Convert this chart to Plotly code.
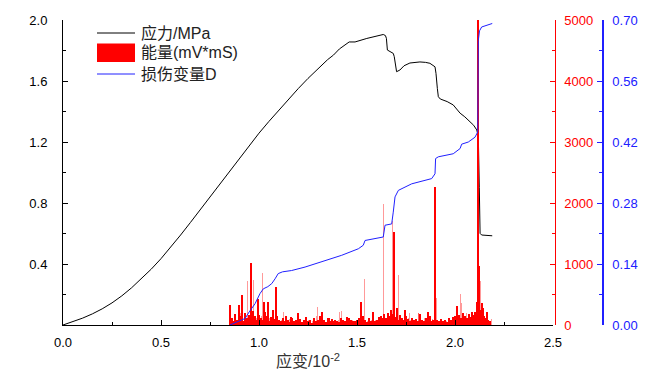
import plotly.graph_objects as go

# ---------------- data ----------------
strain = [0, 0.05, 0.10, 0.15, 0.20, 0.25, 0.30, 0.35, 0.40, 0.45, 0.50, 0.55, 0.60, 0.65, 0.70,
          0.75, 0.80, 0.85, 0.90, 0.95, 1.00, 1.05, 1.10, 1.15, 1.20, 1.25, 1.30, 1.35, 1.38, 1.41,
          1.46, 1.49, 1.55, 1.60, 1.634, 1.645, 1.650, 1.655, 1.668, 1.685, 1.690, 1.695, 1.702,
          1.719, 1.74, 1.77, 1.80, 1.821, 1.85, 1.872, 1.898, 1.903, 1.91, 1.915, 1.925, 1.94,
          1.96, 1.991, 2.01, 2.026, 2.05, 2.077, 2.095, 2.111, 2.119, 2.124, 2.128, 2.136, 2.190]
stress = [0, 0.021, 0.045, 0.073, 0.106, 0.145, 0.191, 0.244, 0.302, 0.366, 0.435, 0.51, 0.59,
          0.672, 0.756, 0.842, 0.928, 1.014, 1.098, 1.18, 1.258, 1.334, 1.408, 1.48, 1.55, 1.617,
          1.68, 1.74, 1.77, 1.81, 1.856, 1.856, 1.879, 1.895, 1.905, 1.898, 1.88, 1.803,
          1.792, 1.781, 1.76, 1.70, 1.661, 1.672, 1.70, 1.718, 1.725, 1.725, 1.722, 1.716,
          1.693, 1.65, 1.55, 1.497, 1.482, 1.475, 1.465, 1.443, 1.413, 1.389, 1.365, 1.334,
          1.31, 1.279, 1.235, 0.90, 0.601, 0.590, 0.585]

damage_strain = [0.852, 0.88, 0.90, 0.929, 0.95, 0.98, 1.005, 1.022, 1.045, 1.065, 1.082, 1.098, 1.12,
                 1.166, 1.235, 1.337, 1.422, 1.507, 1.532, 1.541, 1.634, 1.643, 1.677, 1.685, 1.694,
                 1.711, 1.779, 1.881, 1.898, 1.901, 1.915, 1.991, 2.026, 2.034, 2.068, 2.102, 2.116,
                 2.119, 2.125, 2.136, 2.179, 2.19]
damage = [0, 0.005, 0.008, 0.015, 0.03, 0.049, 0.072, 0.083, 0.088, 0.095, 0.106, 0.118, 0.122,
          0.125, 0.133, 0.148, 0.160, 0.175, 0.183, 0.194, 0.202, 0.229, 0.232, 0.259, 0.294,
          0.309, 0.324, 0.336, 0.347, 0.382, 0.386, 0.393, 0.405, 0.415, 0.420, 0.431, 0.443,
          0.653, 0.675, 0.684, 0.690, 0.692]

# energy bars (solid red)
energy_x = [0.86, 0.87, 0.88, 0.89, 0.90, 0.91, 0.92, 0.93, 0.94, 0.95, 0.96, 0.97, 0.98, 0.99,
            1.00, 1.01, 1.02, 1.03, 1.04, 1.05, 1.06, 1.07, 1.08, 1.09,
            1.10, 1.11, 1.12, 1.13, 1.14, 1.15, 1.16, 1.17, 1.18, 1.19,
            1.20, 1.21, 1.22, 1.23, 1.24, 1.25, 1.26, 1.27, 1.28, 1.29,
            1.30, 1.31, 1.32, 1.33, 1.34, 1.35, 1.36, 1.37, 1.38, 1.39,
            1.40, 1.41, 1.42, 1.43, 1.44, 1.45, 1.46, 1.47, 1.48, 1.49,
            1.50, 1.51, 1.52, 1.53, 1.54, 1.55, 1.56, 1.57, 1.58, 1.59,
            1.60, 1.61, 1.62, 1.63, 1.64, 1.65, 1.66, 1.67, 1.68, 1.69,
            1.70, 1.71, 1.72, 1.73, 1.74, 1.75, 1.76, 1.77, 1.78, 1.79,
            1.80, 1.81, 1.82, 1.83, 1.84, 1.85, 1.86, 1.87, 1.88, 1.89,
            1.90, 1.91, 1.92, 1.93, 1.94, 1.95, 1.96, 1.97, 1.98, 1.99,
            2.00, 2.01, 2.02, 2.03, 2.04, 2.05, 2.06, 2.07, 2.08, 2.09,
            2.10, 2.11, 2.12, 2.13, 2.14, 2.15, 2.16, 2.17, 2.18,
            0.852, 0.900, 0.915, 0.961, 0.993, 1.027, 1.047, 1.070, 1.085, 1.162, 1.198, 1.320,
            1.359, 1.460, 1.519, 1.583, 1.638, 1.673, 1.690, 1.702, 1.745, 1.821, 1.861, 1.898,
            2.012, 2.087, 2.111, 2.119, 2.124, 2.136, 2.145, 2.162]
energy = [120, 60, 180, 90, 250, 140, 70, 200, 110, 160, 90, 230, 150, 80,
          170, 120, 90, 210, 140, 60, 130, 180, 100, 150,
          90, 70, 120, 60, 140, 80, 50, 110, 70, 90,
          60, 100, 50, 80, 130, 60, 90, 40, 110, 70,
          80, 140, 60, 90, 50, 120, 70, 100, 60, 90,
          70, 50, 110, 80, 60, 130, 40, 90, 70, 60,
          80, 110, 60, 140, 90, 50, 120, 70, 100, 60,
          90, 130, 150, 110, 160, 120, 200, 140, 180, 100,
          130, 90, 160, 110, 80, 140, 100, 70, 120, 90,
          100, 70, 130, 90, 60, 110, 80, 140, 70, 90,
          120, 80, 60, 100, 70, 90, 50, 110, 80, 130,
          140, 90, 170, 120, 200, 150, 110, 180, 130, 160,
          220, 260, 300, 240, 180, 150, 110, 80, 60,
          330, 320, 500, 1020, 420, 380, 380, 250, 620, 130, 190, 215,
          120, 120, 380, 220, 180, 250, 1530, 280, 246, 180, 218, 2260,
          311, 218, 383, 5000, 960, 361, 279, 218]

# energy bars (lighter red)
energy_faint_x = [0.865, 0.875, 0.885, 0.895, 0.905, 0.915, 0.925, 0.935, 0.945, 0.955, 0.965, 0.975, 0.985, 0.995,
                  1.005, 1.015, 1.025, 1.035, 1.045, 1.055, 1.065, 1.075, 1.085, 1.095,
                  1.105, 1.115, 1.125, 1.135, 1.145, 1.155, 1.165, 1.175, 1.185, 1.195,
                  1.205, 1.215, 1.225, 1.235, 1.245, 1.255, 1.265, 1.275, 1.285, 1.295,
                  1.305, 1.315, 1.325, 1.335, 1.345, 1.355, 1.365, 1.375, 1.385, 1.395,
                  1.405, 1.415, 1.425, 1.435, 1.445, 1.455, 1.465, 1.475, 1.485, 1.495,
                  1.505, 1.515, 1.525, 1.535, 1.545, 1.555, 1.565, 1.575, 1.585, 1.595,
                  1.605, 1.615, 1.625, 1.635, 1.645, 1.655, 1.665, 1.675, 1.685, 1.695,
                  1.705, 1.715, 1.725, 1.735, 1.745, 1.755, 1.765, 1.775, 1.785, 1.795,
                  1.805, 1.815, 1.825, 1.835, 1.845, 1.855, 1.865, 1.875, 1.885, 1.895,
                  1.905, 1.915, 1.925, 1.935, 1.945, 1.955, 1.965, 1.975, 1.985, 1.995,
                  2.005, 2.015, 2.025, 2.035, 2.045, 2.055, 2.065, 2.075, 2.085, 2.095,
                  2.105, 2.115, 2.125, 2.135, 2.145, 2.155, 2.165, 2.175,
                  0.939, 0.973, 1.019, 1.090, 1.124, 1.297, 1.413, 1.423, 1.537, 1.633, 1.680,
                  1.712, 1.770, 1.812, 1.906, 2.000, 2.026, 2.034, 2.059, 2.102, 2.131, 2.187]
energy_faint = [80, 150, 60, 110, 200, 90, 170, 60, 130, 90, 180, 70, 120, 100,
                90, 150, 70, 120, 60, 110, 80, 140, 60, 100,
                50, 90, 60, 80, 40, 100, 60, 70, 50, 80,
                70, 40, 90, 60, 50, 80, 40, 70, 60, 150,
                60, 90, 50, 70, 40, 80, 60, 50, 90, 70,
                90, 60, 80, 40, 70, 60, 50, 80, 60, 70,
                60, 80, 50, 90, 60, 70, 40, 90, 60, 80,
                80, 110, 90, 130, 100, 140, 120, 90, 150, 110,
                100, 80, 120, 70, 90, 60, 110, 80, 60, 90,
                70, 200, 90, 60, 110, 70, 80, 60, 100, 80,
                90, 60, 80, 50, 70, 60, 90, 70, 60, 100,
                100, 200, 130, 80, 150, 110, 90, 140, 100, 120,
                180, 220, 160, 130, 100, 80, 60, 40,
                720, 745, 845, 546, 213, 300, 218, 230, 754, 1990, 1700,
                820, 200, 200, 443, 280, 505, 361, 200, 383, 720, 105]

x_ticks = [0.0, 0.5, 1.0, 1.5, 2.0, 2.5]
stress_ticks = [0.4, 0.8, 1.2, 1.6, 2.0]
energy_ticks = [0, 1000, 2000, 3000, 4000, 5000]
damage_ticks = [0.00, 0.14, 0.28, 0.42, 0.56, 0.70]

# ---------------- figure ----------------
# the page body has an 8px margin, so the figure is drawn 8px in from the window corner
OFF = 8
FONT = "Liberation Sans, Arial, Noto Sans CJK SC, sans-serif"
W, H = 650 - OFF, 389 - OFF
ML, MT = 63 - OFF, 20 - OFF
PW = 603 - 63
PH = 325 - 20
MR = W - ML - PW
MB = H - MT - PH
XDOM = (553 - 63) / PW
BLUE = "#2020ff"

fig = go.Figure()
fig.add_trace(go.Scatter(x=strain, y=stress, mode="lines", name="应力/MPa",
                         line=dict(color="black", width=1), yaxis="y", showlegend=False))
fig.add_trace(go.Bar(x=energy_faint_x, y=energy_faint, width=0.005, name="能量(mV*mS)",
                     marker=dict(color="rgba(255,0,0,0.4)", line=dict(width=0)),
                     yaxis="y2", showlegend=False))
fig.add_trace(go.Bar(x=energy_x, y=energy, width=0.005, name="能量(mV*mS)",
                     marker=dict(color="#ff0000", line=dict(width=0)),
                     yaxis="y2", showlegend=False))
fig.add_trace(go.Scatter(x=damage_strain, y=damage, mode="lines", name="损伤变量D",
                         line=dict(color=BLUE, width=1), yaxis="y3", showlegend=False))

def px2x(px):
    return (px - 63) / PW

def py2y(py):
    return (325 - py) / PH

# manual legend (reference window pixel positions)
lx0, lx1 = px2x(97), px2x(135)
fig.add_shape(type="line", xref="paper", yref="paper", x0=lx0, x1=lx1, y0=py2y(33), y1=py2y(33),
              line=dict(color="black", width=1))
fig.add_shape(type="rect", xref="paper", yref="paper", x0=lx0, x1=lx1, y0=py2y(62), y1=py2y(43.5),
              fillcolor="#ff0000", line=dict(width=0))
fig.add_shape(type="line", xref="paper", yref="paper", x0=lx0, x1=lx1, y0=py2y(74), y1=py2y(74),
              line=dict(color=BLUE, width=1))
for txt, py in [("应力/MPa", 33), ("能量(mV*mS)", 53), ("损伤变量D", 74)]:
    fig.add_annotation(text=txt, xref="paper", yref="paper", x=px2x(139), y=py2y(py),
                       xanchor="left", yanchor="middle", showarrow=False,
                       font=dict(family=FONT, size=16, color="#222"))

tickfont = dict(family=FONT, size=13)
fig.update_layout(
    width=W, height=H, margin=dict(l=ML, r=MR, t=MT, b=MB, pad=0, autoexpand=False),
    paper_bgcolor="white", plot_bgcolor="white", barmode="overlay", bargap=0,
    font=dict(family=FONT, size=13, color="black"),
    xaxis=dict(domain=[0, XDOM], range=[0, 2.5], tickvals=x_ticks, automargin=False,
               ticktext=[f"{v:.1f}" for v in x_ticks], ticks="inside", ticklen=5,
               tickcolor="black", showline=True, linecolor="black", linewidth=1,
               showgrid=False, zeroline=False, tickfont=tickfont, ticklabelstandoff=5,
               minor=dict(ticks="inside", ticklen=3, dtick=0.25, tick0=0, tickcolor="black"),
               title=dict(text="应变/10<sup>-2</sup>", font=dict(family=FONT, size=16, color="#333"),
                          standoff=7),
               anchor="y"),
    yaxis=dict(range=[0, 2.0], tickvals=stress_ticks, ticktext=[f"{v:.1f}" for v in stress_ticks],
               ticks="inside", ticklen=5, tickcolor="black", showline=True, linecolor="black",
               linewidth=1, showgrid=False, zeroline=False, tickfont=tickfont, ticklabelstandoff=12,
               automargin=False,
               minor=dict(ticks="inside", ticklen=3, dtick=0.2, tick0=0, tickcolor="black")),
    yaxis2=dict(range=[0, 5000], overlaying="y", side="right", anchor="free", position=XDOM + 0.003,
                tickvals=energy_ticks, ticks="inside", ticklen=5, tickcolor="red", automargin=False,
                showline=True, linecolor="red", linewidth=1, showgrid=False, zeroline=False,
                tickfont=dict(family=FONT, size=13, color="red"), ticklabelstandoff=6,
                minor=dict(ticks="inside", ticklen=3, dtick=500, tick0=0, tickcolor="red")),
    yaxis3=dict(range=[0, 0.70], overlaying="y", side="right", anchor="free", position=1.0,
                tickvals=damage_ticks, ticktext=[f"{v:.2f}" for v in damage_ticks],
                ticks="inside", ticklen=5, tickcolor=BLUE, automargin=False,
                showline=True, linecolor=BLUE, linewidth=1.5, showgrid=False, zeroline=False,
                tickfont=dict(family=FONT, size=13, color=BLUE), ticklabelstandoff=6,
                minor=dict(ticks="inside", ticklen=3, dtick=0.07, tick0=0, tickcolor=BLUE)),
    showlegend=False,
)

fig.write_html("out.html")
